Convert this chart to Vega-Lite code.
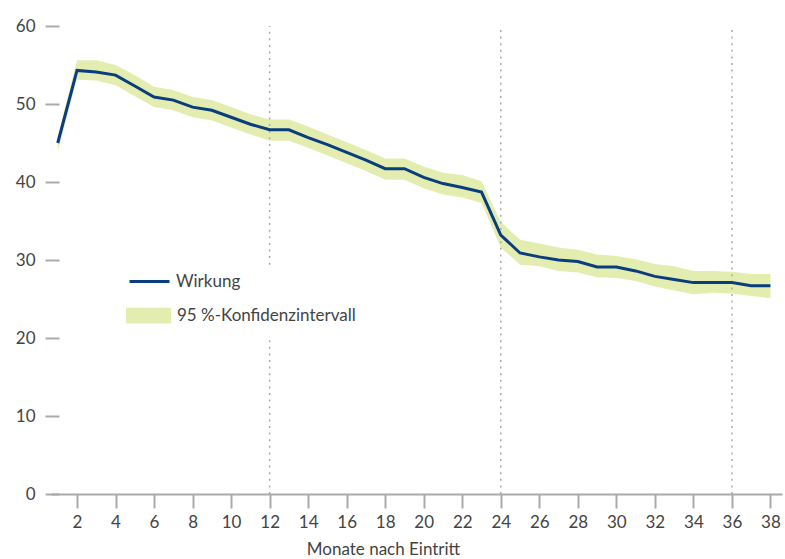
{
  "$schema": "https://vega.github.io/schema/vega-lite/v6.json",
  "width": 731,
  "height": 468,
  "autosize": "none",
  "padding": {"left": 51, "top": 26, "right": 3, "bottom": 65},
  "background": "white",
  "config": {
    "font": "Lato",
    "view": {"stroke": null},
    "axis": {"labelFont": "Lato", "titleFont": "Lato", "labelColor": "#444444", "titleColor": "#444444", "grid": false}
  },
  "datasets": {
    "main": [
      {"monat": 1, "wirkung": 45.0, "lo": 43.9, "hi": 45.9},
      {"monat": 2, "wirkung": 54.3, "lo": 53.1, "hi": 55.6},
      {"monat": 3, "wirkung": 54.1, "lo": 53.0, "hi": 55.6},
      {"monat": 4, "wirkung": 53.7, "lo": 52.4, "hi": 55.0},
      {"monat": 5, "wirkung": 52.3, "lo": 51.0, "hi": 53.7},
      {"monat": 6, "wirkung": 50.9, "lo": 49.6, "hi": 52.2},
      {"monat": 7, "wirkung": 50.5, "lo": 49.2, "hi": 51.8},
      {"monat": 8, "wirkung": 49.6, "lo": 48.3, "hi": 50.9},
      {"monat": 9, "wirkung": 49.2, "lo": 47.9, "hi": 50.5},
      {"monat": 10, "wirkung": 48.3, "lo": 47.0, "hi": 49.6},
      {"monat": 11, "wirkung": 47.4, "lo": 46.1, "hi": 48.7},
      {"monat": 12, "wirkung": 46.7, "lo": 45.3, "hi": 48.0},
      {"monat": 13, "wirkung": 46.7, "lo": 45.3, "hi": 48.0},
      {"monat": 14, "wirkung": 45.7, "lo": 44.4, "hi": 47.1},
      {"monat": 15, "wirkung": 44.8, "lo": 43.4, "hi": 46.1},
      {"monat": 16, "wirkung": 43.8, "lo": 42.4, "hi": 45.1},
      {"monat": 17, "wirkung": 42.8, "lo": 41.4, "hi": 44.1},
      {"monat": 18, "wirkung": 41.7, "lo": 40.3, "hi": 43.0},
      {"monat": 19, "wirkung": 41.7, "lo": 40.3, "hi": 43.0},
      {"monat": 20, "wirkung": 40.6, "lo": 39.2, "hi": 42.0},
      {"monat": 21, "wirkung": 39.8, "lo": 38.4, "hi": 41.2},
      {"monat": 22, "wirkung": 39.3, "lo": 38.0, "hi": 40.9},
      {"monat": 23, "wirkung": 38.7, "lo": 37.3, "hi": 40.1},
      {"monat": 24, "wirkung": 33.2, "lo": 31.6, "hi": 34.9},
      {"monat": 25, "wirkung": 30.9, "lo": 29.4, "hi": 32.6},
      {"monat": 26, "wirkung": 30.4, "lo": 29.2, "hi": 32.1},
      {"monat": 27, "wirkung": 30.0, "lo": 28.6, "hi": 31.6},
      {"monat": 28, "wirkung": 29.8, "lo": 28.4, "hi": 31.3},
      {"monat": 29, "wirkung": 29.1, "lo": 27.8, "hi": 30.7},
      {"monat": 30, "wirkung": 29.1, "lo": 27.7, "hi": 30.5},
      {"monat": 31, "wirkung": 28.6, "lo": 27.3, "hi": 30.1},
      {"monat": 32, "wirkung": 27.9, "lo": 26.6, "hi": 29.5},
      {"monat": 33, "wirkung": 27.5, "lo": 26.1, "hi": 29.2},
      {"monat": 34, "wirkung": 27.1, "lo": 25.6, "hi": 28.6},
      {"monat": 35, "wirkung": 27.1, "lo": 25.8, "hi": 28.6},
      {"monat": 36, "wirkung": 27.1, "lo": 25.7, "hi": 28.5},
      {"monat": 37, "wirkung": 26.7, "lo": 25.4, "hi": 28.2},
      {"monat": 38, "wirkung": 26.7, "lo": 25.1, "hi": 28.2}
    ],
    "rules": [
      {"monat": 12, "von": 0, "bis": 20.1},
      {"monat": 12, "von": 29.4, "bis": 60},
      {"monat": 24, "von": 0, "bis": 60},
      {"monat": 36, "von": 0, "bis": 60}
    ]
  },
  "layer": [
    {
      "data": {"name": "main"},
      "mark": {"type": "area", "opacity": 1},
      "encoding": {
        "x": {
          "field": "monat", "type": "quantitative",
          "scale": {"domain": [0.65, 38.6], "nice": false, "zero": false},
          "axis": {
            "values": [2, 4, 6, 8, 10, 12, 14, 16, 18, 20, 22, 24, 26, 28, 30, 32, 34, 36, 38],
            "title": "Monate nach Eintritt",
            "domainColor": "#aaaaaa", "domainWidth": 2,
            "tickColor": "#aaaaaa", "tickWidth": 2, "tickSize": 14,
            "labelFontSize": 17, "labelPadding": 6,
            "titleFontSize": 17, "titleFontWeight": "normal",
            "titleX": 332, "titleY": 60, "titleBaseline": "alphabetic", "titleAnchor": "middle", "titleAlign": "center"
          }
        },
        "y": {
          "field": "lo", "type": "quantitative",
          "scale": {"domain": [0, 60], "nice": false},
          "axis": {
            "values": [0, 10, 20, 30, 40, 50, 60],
            "title": null, "domain": false,
            "tickColor": "#aaaaaa", "tickWidth": 2, "tickSize": 14, "offset": -8,
            "labelFontSize": 17, "labelPadding": 10
          }
        },
        "y2": {"field": "hi"},
        "fill": {
          "datum": "95 %-Konfidenzintervall",
          "scale": {"range": ["#e4edb0"]},
          "legend": {
            "orient": "none", "legendX": 75, "legendY": 267, "title": null, "padding": 0,
            "symbolType": "M-1,-0.35H1V0.35H-1Z", "symbolSize": 2025, "symbolOpacity": 1,
            "symbolStrokeWidth": 0, "labelLimit": 400,
            "labelFontSize": 17, "labelColor": "#444444", "labelOffset": 6, "labelFont": "Lato"
          }
        }
      }
    },
    {
      "data": {"name": "rules"},
      "mark": {"type": "rule", "color": "#aaaaaa", "strokeWidth": 1.5, "strokeDash": [2, 4.6]},
      "encoding": {
        "x": {"field": "monat", "type": "quantitative"},
        "y": {"field": "von", "type": "quantitative"},
        "y2": {"field": "bis"}
      }
    },
    {
      "data": {"name": "main"},
      "mark": {"type": "line", "strokeWidth": 3},
      "encoding": {
        "x": {"field": "monat", "type": "quantitative"},
        "y": {"field": "wirkung", "type": "quantitative"},
        "stroke": {
          "datum": "Wirkung",
          "scale": {"range": ["#0a3d7e"]},
          "legend": {
            "orient": "none", "legendX": 77, "legendY": 234, "title": null, "padding": 0,
            "symbolType": "stroke", "symbolSize": 1600, "symbolStrokeWidth": 3, "labelLimit": 400,
            "labelFontSize": 17, "labelColor": "#444444", "labelOffset": 5, "labelFont": "Lato"
          }
        }
      }
    }
  ],
  "resolve": {"scale": {"fill": "independent", "stroke": "independent"}}
}
